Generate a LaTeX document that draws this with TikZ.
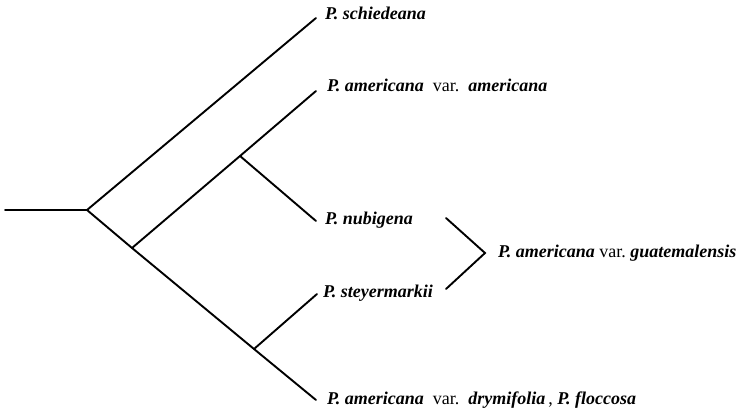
\documentclass[tikz,border=0pt]{standalone}
\usepackage{fontspec}
\setmainfont{Liberation Serif}
\newcommand{\taxname}[1]{\textbf{\textit{#1}}}
\begin{document}
\begin{tikzpicture}[x=1pt,y=-1pt,
  branch/.style={line width=1.9pt,line cap=round,line join=miter},
  taxon/.style={anchor=base west,inner sep=0pt,font=\fontsize{18}{21}\selectfont}]
\useasboundingbox (0,0) rectangle (743,411);

% branch points and tips
\coordinate (base)  at (5,210);
\coordinate (root)  at (87,210);
\coordinate (jA)    at (132,248);
\coordinate (jN)    at (240,156);
\coordinate (jS)    at (254,349);
\coordinate (tSch)  at (316,18);
\coordinate (tAme)  at (316,91);
\coordinate (tNub)  at (316,221);
\coordinate (tSte)  at (317,294);
\coordinate (tDry)  at (316,400);

% taxon labels
\node[taxon] (lSch) at (325,20)  {\taxname{P. schiedeana}};
\node[taxon] (lAme) at (327,92)  {\taxname{P. americana}\ \ var.\ \ \taxname{americana}};
\node[taxon] (lNub) at (325,225) {\taxname{P. nubigena}};
\node[taxon] (lSte) at (323,297) {\taxname{P. steyermarkii}};
\node[taxon] (lDry) at (327,404) {\taxname{P. americana}\ \ var.\ \ \taxname{drymifolia}\,, \taxname{P. floccosa}};
\node[taxon] (lGua) at (498,258) {\taxname{P. americana} var.\ \taxname{guatemalensis}};

% tree
\draw[branch] (base) -- (root);
\draw[branch] (root) -- (tSch);
\draw[branch] (root) -- (jA) -- (jS) -- (tDry);
\draw[branch] (jA) -- (jN) -- (tAme);
\draw[branch] (jN) -- (tNub);
\draw[branch] (jS) -- (tSte);

% bracket joining nubigena and steyermarkii
\coordinate (bTop) at (446,218);
\coordinate (bTip) at (485,253);
\coordinate (bBot) at (446,289);
\draw[branch] (bTop) -- (bTip) -- (bBot);
\end{tikzpicture}
\end{document}
